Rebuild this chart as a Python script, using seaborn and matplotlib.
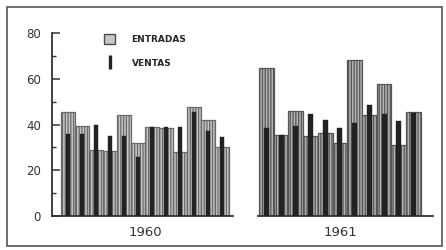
import matplotlib
matplotlib.use("Agg")
import matplotlib.pyplot as plt
import seaborn as sns
import pandas as pd
from matplotlib.patches import Patch, Rectangle
from matplotlib.lines import Line2D

# ---- data ----
years = ["1960", "1961"]
entradas_1960 = [45.4, 39.3, 28.8, 28.6, 44.1, 31.8, 39.0, 38.4, 28.0, 47.6, 42.1, 30.3]
ventas_1960 = [35.8, 35.8, 40.0, 35.0, 35.0, 26.0, 39.0, 38.9, 39.0, 45.4, 37.3, 34.4]
entradas_1961 = [64.5, 35.4, 46.0, 35.0, 36.4, 31.7, 68.4, 44.1, 57.9, 31.0, 45.3]
ventas_1961 = [38.6, 35.4, 39.5, 44.6, 41.9, 38.3, 40.8, 48.7, 44.6, 41.5, 45.0]
y_ticks = [0, 20, 40, 60, 80]
legend_labels = ["ENTRADAS", "VENTAS"]

sns.set_theme(style="white")
plt.rcParams["font.family"] = ["DejaVu Sans"]
plt.rcParams["hatch.linewidth"] = 0.9

W, H = 446, 250
fig = plt.figure(figsize=(W / 100, H / 100), dpi=100)
fig.patch.set_facecolor("white")

ax1 = fig.add_axes([52 / W, 34 / H, 181 / W, 183 / H])
ax2 = fig.add_axes([258 / W, 34 / H, 175 / W, 183 / H], sharey=ax1)

groups = [
    (ax1, entradas_1960, ventas_1960, years[0], "#c6c6c6", "#6a6a6a"),
    (ax2, entradas_1961, ventas_1961, years[1], "#b4b4b4", "#555555"),
]

for ax, ent, ven, yr, fc, ec in groups:
    df = pd.DataFrame({"mes": list(range(len(ent))), "entradas": ent, "ventas": ven})
    sns.barplot(data=df, x="mes", y="entradas", ax=ax, color=fc, saturation=1,
                width=1.0, edgecolor=ec, linewidth=0.9, hatch="||||||",
                errorbar=None, zorder=2)
    sns.barplot(data=df, x="mes", y="ventas", ax=ax, color="#222222", saturation=1,
                width=0.34, edgecolor="#222222", linewidth=0.3,
                errorbar=None, zorder=3)
    n = len(ent)
    ax.set_xticks([(n - 1) / 2])
    ax.set_xticklabels([yr], fontsize=9.5, color="#333333")
    ax.tick_params(axis="x", length=0, pad=7)
    ax.set_xlabel("")
    ax.set_ylabel("")
    for s in ["top", "right"]:
        ax.spines[s].set_visible(False)
    ax.spines["bottom"].set_color("#333333")
    ax.spines["bottom"].set_linewidth(1.3)

ax1.set_xlim(-1.14, 11.79)
ax2.set_xlim(-0.57, 11.32)
ax1.set_ylim(0, 80)

ax1.set_yticks(y_ticks)
ax1.set_yticklabels([str(v) for v in y_ticks], fontsize=8.5, color="#333333")
ax1.set_yticks([10, 30, 50, 70], minor=True)
ax1.tick_params(axis="y", which="major", direction="in", length=6, width=1.1,
                color="#333333", pad=8, left=True)
ax1.tick_params(axis="y", which="minor", direction="in", length=3, width=1.0,
                color="#333333", left=True)
ax1.spines["left"].set_color("#333333")
ax1.spines["left"].set_linewidth(1.3)

ax2.spines["left"].set_visible(False)
ax2.tick_params(axis="y", which="both", left=False, labelleft=False)

# legend
handles = [
    Patch(facecolor="#c6c6c6", edgecolor="#4a4a4a", linewidth=1.0),
    Line2D([], [], linestyle="none", marker="|", markersize=9.5,
           markeredgewidth=2.4, color="#222222"),
]
fig.legend(handles, legend_labels, loc="upper left",
           bbox_to_anchor=(104 / W, 1 - 34 / H), bbox_transform=fig.transFigure,
           frameon=False, borderpad=0, borderaxespad=0,
           handlelength=1.25, handleheight=1.25, handletextpad=1.8,
           labelspacing=1.55,
           prop={"family": ["Liberation Sans Narrow", "DejaVu Sans"],
                 "weight": "bold", "size": 6.5})

# outer frame
fig.add_artist(Rectangle((7 / W, 4 / H), 435 / W, 239 / H, transform=fig.transFigure,
                         fill=False, edgecolor="#555555", linewidth=1.2))

fig.savefig("out.png", dpi=100, facecolor="white")
